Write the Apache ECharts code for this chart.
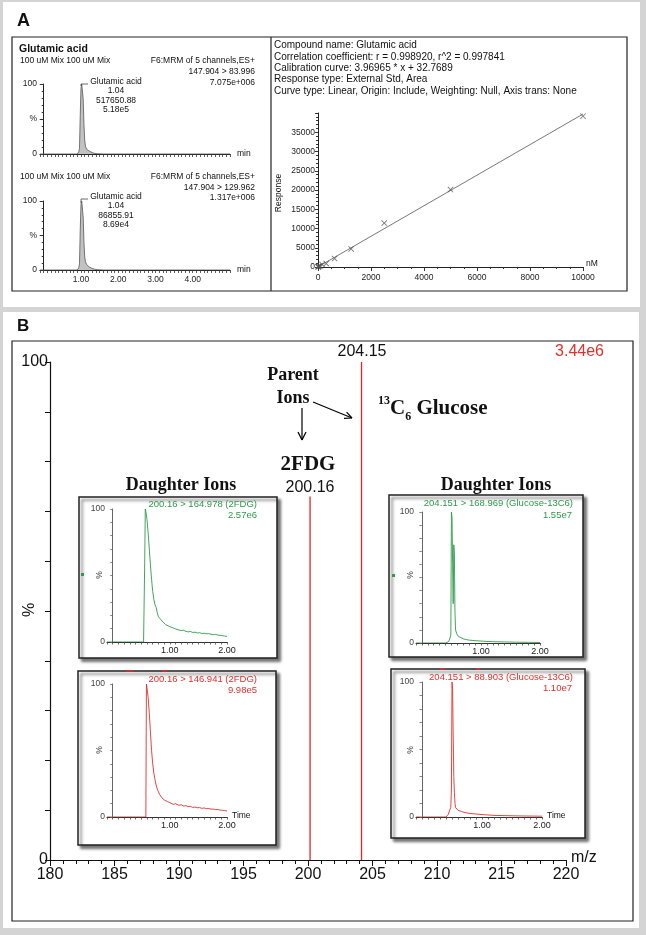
<!DOCTYPE html>
<html><head><meta charset="utf-8">
<script src="https://cdn.jsdelivr.net/npm/echarts@6/dist/echarts.min.js"></script>
<style>
html,body{margin:0;padding:0;}
body{width:646px;height:935px;background:#d4d4d4;position:relative;overflow:hidden;}
.pa{position:absolute;left:3px;top:2px;width:637px;height:305px;background:#fff;}
.pb{position:absolute;left:3px;top:312px;width:636px;height:616px;background:#fff;}
#c{position:absolute;left:0;top:0;width:646px;height:935px;}
</style>
</head><body>
<div class="pa"></div><div class="pb"></div>
<div id="c"></div>
<script>
// ---------------- DATA ----------------
// Panel A chromatograms (time in min, intensity in %)
const chromA1Time = [-0.1, 0.90, 0.94, 0.96, 0.98, 1.00, 1.02, 1.04, 1.06, 1.08, 1.10, 1.12, 1.15, 1.18, 1.22, 1.26, 1.30, 1.36, 1.45, 1.60, 5.0];
const chromA1Pct  = [0, 0, 3, 8, 55, 94, 100, 99, 78, 42, 20, 11, 7, 5.5, 4.2, 3, 2, 1, 0.4, 0, 0];
const chromA2Time = [-0.1, 0.90, 0.94, 0.96, 0.98, 1.00, 1.02, 1.04, 1.06, 1.08, 1.10, 1.12, 1.15, 1.18, 1.22, 1.26, 1.30, 1.36, 1.45, 1.60, 5.0];
const chromA2Pct  = [0, 0, 3, 9, 58, 95, 100, 98, 76, 40, 19, 12, 8, 6, 4.5, 3.2, 2.2, 1.2, 0.5, 0, 0];

// Panel A calibration (nM vs response)
const calConc = [0, 9.8, 19.5, 39, 78, 156, 312, 625, 1250, 2500, 5000, 10000];
const calResp = [40, 60, 100, 180, 330, 640, 900, 2200, 4700, 11400, 20100, 39150];
const calFitConc = [0, 10000];
const calFitResp = [33, 39730];

// Panel B parent ion spectrum (m/z vs %)
const specMz  = [200.16, 204.15];
const specPct = [73, 100];

// Panel B daughter ion chromatograms (time in min, %)
const dauLTTime = [-0.1, 0.54, 0.56, 0.57, 0.58, 0.60, 0.62, 0.64, 0.66, 0.68, 0.70, 0.72, 0.74, 0.76, 0.78, 0.80, 0.82, 0.84, 0.86, 0.88, 0.90, 0.93, 0.96, 1.00, 1.03, 1.06, 1.10, 1.13, 1.16, 1.20, 1.24, 1.28, 1.32, 1.36, 1.40, 1.44, 1.48, 1.52, 1.56, 1.60, 1.64, 1.68, 1.72, 1.76, 1.80, 1.84, 1.88, 1.92, 1.96, 2.00];
const dauLTPct  = [0, 0, 60, 100, 98, 92, 82, 70, 58, 47, 38, 32, 28, 26, 22, 19, 18, 17, 16, 15, 14.5, 13, 12.5, 11.5, 11, 10.5, 9.8, 10.2, 9, 8.6, 8.8, 8, 7.6, 7.9, 7.2, 7.4, 6.8, 7, 6.4, 6.6, 6.1, 6.3, 5.8, 5.5, 5.7, 5.2, 5, 4.8, 4.5, 4.2];
const dauLBTime = [-0.1, 0.58, 0.59, 0.60, 0.62, 0.64, 0.66, 0.68, 0.70, 0.72, 0.74, 0.76, 0.78, 0.80, 0.82, 0.84, 0.86, 0.88, 0.90, 0.93, 0.96, 1.00, 1.03, 1.06, 1.10, 1.13, 1.16, 1.20, 1.24, 1.28, 1.32, 1.36, 1.40, 1.44, 1.48, 1.52, 1.56, 1.60, 1.64, 1.68, 1.72, 1.76, 1.80, 1.84, 1.88, 1.92, 1.96, 2.00];
const dauLBPct  = [0, 0, 100, 97, 90, 78, 64, 50, 40, 33, 28, 24, 21, 19, 17, 16, 14.5, 13.5, 12.8, 12, 11.5, 10.8, 10.2, 9.5, 10, 9, 8.8, 9.2, 8.2, 8.5, 7.8, 8, 7.2, 7.5, 6.9, 7.1, 6.5, 6.8, 6.2, 6.4, 5.9, 6, 5.5, 5.7, 5.2, 5, 4.8, 4.6];
const dauRTTime = [-0.1, 0.40, 0.45, 0.47, 0.48, 0.49, 0.50, 0.51, 0.52, 0.53, 0.54, 0.55, 0.56, 0.57, 0.59, 0.62, 0.65, 0.70, 0.75, 0.80, 0.85, 0.90, 1.00, 1.10, 1.20, 1.40, 1.60, 1.80, 2.00];
const dauRTPct  = [0, 0, 1, 3, 3, 6, 100, 96, 60, 30, 75, 68, 23, 10, 7, 5, 4, 3.2, 2.6, 2.2, 2, 1.8, 1.5, 1.2, 1, 0.8, 0.6, 0.5, 0.4];
const dauRBTime = [-0.1, 0.40, 0.44, 0.46, 0.47, 0.48, 0.49, 0.50, 0.51, 0.52, 0.53, 0.54, 0.55, 0.56, 0.58, 0.60, 0.63, 0.66, 0.70, 0.75, 0.80, 0.90, 1.00, 1.10, 1.20, 1.40, 1.60, 1.80, 2.00];
const dauRBPct  = [0, 0, 2, 5, 6, 7, 20, 100, 95, 60, 30, 18, 10, 7, 6, 5, 4.5, 4, 3.5, 3, 2.6, 2.2, 1.8, 1.5, 1.2, 1, 0.8, 0.7, 0.6];

// tick labels
const chromTimeLabels = ['1.00', '2.00', '3.00', '4.00'];
const insetTimeLabels = ['1.00', '2.00'];

// ---------------- HELPERS ----------------
const SANS = "'Liberation Sans', Arial, sans-serif";
const SERIF = "'Liberation Serif', 'Times New Roman', serif";
const GREEN = '#2f9a4a';
const RED = '#e2302c';
const SPEC_RED = '#e02626';
const zip = (a, b) => a.map((v, i) => [v, b[i]]);

function timeFmt(labels) {
  return function (v) {
    const r = Math.round(v);
    if (Math.abs(v - r) < 1e-6 && r >= 1 && r <= labels.length) return labels[r - 1];
    return '';
  };
}

function T(text, x, y, o) {
  o = o || {};
  return {
    type: 'text', x: x, y: y, z: 20, rotation: o.rot || 0,
    style: {
      text: text, fontSize: o.size || 10, fontFamily: o.font || SANS,
      fontWeight: o.bold ? 'bold' : 'normal', fill: o.color || '#111',
      align: o.align || 'left', verticalAlign: 'middle', rich: o.rich
    }
  };
}
function L(x1, y1, x2, y2, w, c) {
  return { type: 'line', z: 20, shape: { x1, y1, x2, y2 }, style: { stroke: c || '#000', lineWidth: w || 1 } };
}

// ---------------- LAYOUT ----------------
const grids = [
  { left: 40, top: 84, width: 190, height: 70 },   // 0 A chrom 1
  { left: 40, top: 201, width: 190, height: 69 },  // 1 A chrom 2
  { left: 318, top: 113, width: 265, height: 154 },// 2 calibration
  { left: 50, top: 362, width: 516, height: 498 }, // 3 B spectrum
  { left: 107, top: 509, width: 120, height: 133 },// 4 LT
  { left: 107, top: 684, width: 120, height: 133 },// 5 LB
  { left: 416, top: 512, width: 124, height: 131 },// 6 RT
  { left: 416, top: 682, width: 126, height: 135 } // 7 RB
];

function chromX(gi, showLabels) {
  return {
    gridIndex: gi, type: 'value', min: -0.1, max: 5.0, interval: 0.1,
    axisLine: { lineStyle: { color: '#222', width: 1 } },
    axisTick: { length: 3, lineStyle: { color: '#333', width: 0.8 } },
    axisLabel: { show: showLabels, formatter: timeFmt(chromTimeLabels), fontSize: 8.5, color: '#222', fontFamily: SANS, margin: 5 },
    splitLine: { show: false }
  };
}
function chromY(gi) {
  return {
    gridIndex: gi, type: 'value', min: 0, max: 100, interval: 50,
    axisLine: { show: true, lineStyle: { color: '#222', width: 1 } },
    axisTick: { show: true, length: 4, lineStyle: { color: '#333' } },
    minorTick: { show: true, splitNumber: 5, length: 2, lineStyle: { color: '#333' } },
    axisLabel: { formatter: v => v === 0 ? '0' : (v === 50 ? '%' : '100'), fontSize: 8.5, color: '#222', fontFamily: SANS, margin: 3 },
    splitLine: { show: false }, minorSplitLine: { show: false }
  };
}
function insetX(gi) {
  return {
    gridIndex: gi, type: 'value', min: -0.1, max: 2.0, interval: 0.1, z: 5,
    axisLine: { lineStyle: { color: '#333', width: 1 } },
    axisTick: { length: 2.5, lineStyle: { color: '#444', width: 0.8 } },
    axisLabel: { formatter: timeFmt(insetTimeLabels), fontSize: 9, color: '#222', fontFamily: SANS, margin: 4 },
    splitLine: { show: false }
  };
}
function insetY(gi) {
  return {
    gridIndex: gi, type: 'value', min: 0, max: 100, interval: 10, z: 5,
    axisLine: { show: true, lineStyle: { color: '#666', width: 1 } },
    axisTick: { show: true, length: 2.5, lineStyle: { color: '#666', width: 0.8 } },
    axisLabel: { formatter: v => v === 0 ? '0' : (v === 100 ? '100' : ''), fontSize: 8.5, color: '#444', fontFamily: SANS, margin: 2 },
    splitLine: { show: false }
  };
}

const xAxes = [
  chromX(0, false), chromX(1, true),
  { gridIndex: 2, type: 'value', min: 0, max: 10000, interval: 2000,
    axisLine: { lineStyle: { color: '#222' } },
    axisTick: { length: 4, lineStyle: { color: '#333' } },
    minorTick: { show: true, splitNumber: 4, length: 2, lineStyle: { color: '#333' } },
    axisLabel: { formatter: v => String(v), fontSize: 8.5, color: '#222', fontFamily: SANS, margin: 6 },
    splitLine: { show: false }, minorSplitLine: { show: false } },
  { gridIndex: 3, type: 'value', min: 180, max: 220, interval: 5,
    axisLine: { lineStyle: { color: '#111', width: 1.2 } },
    axisTick: { length: 6, lineStyle: { color: '#111' } },
    minorTick: { show: true, splitNumber: 5, length: 4, lineStyle: { color: '#111' } },
    axisLabel: { fontSize: 16, color: '#111', fontFamily: SANS, margin: 7 },
    splitLine: { show: false }, minorSplitLine: { show: false } },
  insetX(4), insetX(5), insetX(6), insetX(7)
];
const yAxes = [
  chromY(0), chromY(1),
  { gridIndex: 2, type: 'value', min: 0, max: 40000, interval: 5000,
    axisLine: { show: true, lineStyle: { color: '#222' } },
    axisTick: { show: true, length: 3, lineStyle: { color: '#333' } },
    minorTick: { show: true, splitNumber: 5, length: 2, lineStyle: { color: '#333' } },
    axisLabel: { formatter: v => v >= 40000 ? '' : String(v), fontSize: 8.5, color: '#222', fontFamily: SANS, margin: 3 },
    splitLine: { show: false }, minorSplitLine: { show: false } },
  { gridIndex: 3, type: 'value', min: 0, max: 100, interval: 10,
    axisLine: { show: true, lineStyle: { color: '#111', width: 1.2 } },
    axisTick: { show: true, length: 5, lineStyle: { color: '#111' } },
    axisLabel: { formatter: v => v === 0 ? '0' : (v === 100 ? '100' : ''), fontSize: 16, color: '#111', fontFamily: SANS, margin: 2 },
    splitLine: { show: false } },
  insetY(4), insetY(5), insetY(6), insetY(7)
];

const xMark = 'path://M0,1L1,0L5,4L9,0L10,1L6,5L10,9L9,10L5,6L1,10L0,9L4,5Z';

function trace(gi, t, v, color, w) {
  return { type: 'line', xAxisIndex: gi, yAxisIndex: gi, data: zip(t, v), symbol: 'none',
    color: color, lineStyle: { color: color, width: w || 0.9 }, silent: true, animation: false };
}

const series = [
  Object.assign(trace(0, chromA1Time, chromA1Pct, '#555', 0.8), { areaStyle: { color: '#a8a8a8' } }),
  Object.assign(trace(1, chromA2Time, chromA2Pct, '#555', 0.8), { areaStyle: { color: '#a8a8a8' } }),
  { type: 'line', xAxisIndex: 2, yAxisIndex: 2, data: zip(calFitConc, calFitResp), symbol: 'none',
    color: '#555', lineStyle: { color: '#555', width: 0.8 }, animation: false },
  { type: 'scatter', xAxisIndex: 2, yAxisIndex: 2, data: zip(calConc, calResp), symbol: xMark, symbolSize: 6,
    itemStyle: { color: '#555' }, animation: false },
  trace(4, dauLTTime, dauLTPct, GREEN),
  trace(5, dauLBTime, dauLBPct, RED),
  trace(6, dauRTTime, dauRTPct, GREEN),
  trace(7, dauRBTime, dauRBPct, RED)
];
// parent-ion sticks (one segment per ion, from the baseline to its intensity)
specMz.forEach((mz, i) => series.push({
  type: 'line', xAxisIndex: 3, yAxisIndex: 3, z: 6, data: [[mz, 0], [mz, specPct[i]]], symbol: 'none',
  color: SPEC_RED, itemStyle: { color: SPEC_RED }, lineStyle: { color: SPEC_RED, width: 1.3 },
  emphasis: { disabled: true }, animation: false, silent: true
}));

// ---------------- DECORATION / TEXT ----------------
const g = [];
g.push({ type: 'rect', z: 0, shape: { x: 12, y: 37, width: 615, height: 254 }, style: { fill: 'none', stroke: '#222', lineWidth: 1.2 } });
g.push(L(271, 37, 271, 291, 1.2, '#222'));
g.push({ type: 'rect', z: 0, shape: { x: 12, y: 341, width: 621, height: 580 }, style: { fill: 'none', stroke: '#222', lineWidth: 1.2 } });

// Panel A texts
g.push(T('A', 17, 21, { size: 18, bold: true }));
g.push(T('Glutamic acid', 19, 49, { size: 10.5, bold: true }));
g.push(T('100 uM Mix 100 uM Mix', 20, 61, { size: 8.5 }));
g.push(T('F6:MRM of 5 channels,ES+', 255, 61, { size: 8.5, align: 'right' }));
g.push(T('147.904 > 83.996', 255, 72, { size: 8.5, align: 'right' }));
g.push(T('7.075e+006', 255, 83, { size: 8.5, align: 'right' }));
g.push(T('Glutamic acid', 116, 82, { size: 8.5, align: 'center' }));
g.push(T('1.04', 116, 91, { size: 8.5, align: 'center' }));
g.push(T('517650.88', 116, 101, { size: 8.5, align: 'center' }));
g.push(T('5.18e5', 116, 110, { size: 8.5, align: 'center' }));
g.push({ type: 'polyline', z: 20, shape: { points: [[81, 86], [81, 84], [88, 84]] }, style: { stroke: '#444', lineWidth: 0.8, fill: 'none' } });
g.push(T('min', 237, 154, { size: 8.5 }));

g.push(T('100 uM Mix 100 uM Mix', 20, 177, { size: 8.5 }));
g.push(T('F6:MRM of 5 channels,ES+', 255, 177, { size: 8.5, align: 'right' }));
g.push(T('147.904 > 129.962', 255, 188, { size: 8.5, align: 'right' }));
g.push(T('1.317e+006', 255, 198, { size: 8.5, align: 'right' }));
g.push(T('Glutamic acid', 116, 197, { size: 8.5, align: 'center' }));
g.push(T('1.04', 116, 206, { size: 8.5, align: 'center' }));
g.push(T('86855.91', 116, 216, { size: 8.5, align: 'center' }));
g.push(T('8.69e4', 116, 225, { size: 8.5, align: 'center' }));
g.push({ type: 'polyline', z: 20, shape: { points: [[81, 203], [81, 199], [88, 199]] }, style: { stroke: '#444', lineWidth: 0.8, fill: 'none' } });
g.push(T('min', 237, 270, { size: 8.5 }));

const calText = [
  'Compound name: Glutamic acid',
  'Correlation coefficient: r = 0.998920, r^2 = 0.997841',
  'Calibration curve: 3.96965 * x + 32.7689',
  'Response type: External Std, Area',
  'Curve type: Linear, Origin: Include, Weighting: Null, Axis trans: None'
];
const calTextY = [45, 57, 68, 79, 91];
calText.forEach((s, i) => g.push(T(s, 274, calTextY[i], { size: 10 })));
g.push(T('Response', 279, 193, { size: 8.5, align: 'center', rot: Math.PI / 2 }));
g.push(T('nM', 586, 264, { size: 8.5 }));

// Panel B texts
g.push(T('B', 17, 326, { size: 17, bold: true }));
g.push(T('204.15', 362, 352, { size: 16, align: 'center' }));
g.push(T('3.44e6', 604, 352, { size: 16, align: 'right', color: RED }));
g.push(T('Parent', 293, 375, { size: 18, bold: true, font: SERIF, align: 'center' }));
g.push(T('Ions', 293, 398, { size: 18, bold: true, font: SERIF, align: 'center' }));
g.push(T('2FDG', 308, 465, { size: 21, bold: true, font: SERIF, align: 'center' }));
g.push(T('200.16', 310, 488, { size: 16, align: 'center' }));
g.push(T('Daughter Ions', 181, 485, { size: 18, bold: true, font: SERIF, align: 'center' }));
g.push(T('Daughter Ions', 496, 485, { size: 18, bold: true, font: SERIF, align: 'center' }));
g.push(T('{s|13}{b|C}{d|6}{b| Glucose}', 378, 409, { size: 21, bold: true, font: SERIF,
  rich: {
    s: { fontSize: 12, fontWeight: 'bold', fontFamily: SERIF, fill: '#111', verticalAlign: 'top', lineHeight: 28 },
    b: { fontSize: 21, fontWeight: 'bold', fontFamily: SERIF, fill: '#111', lineHeight: 28 },
    d: { fontSize: 12, fontWeight: 'bold', fontFamily: SERIF, fill: '#111', verticalAlign: 'bottom', lineHeight: 28 }
  } }));
g.push(T('m/z', 571, 858, { size: 16 }));
g.push(T('%', 30, 610, { size: 16, align: 'center', rot: Math.PI / 2 }));
// arrows
g.push(L(302, 408, 302, 440, 1.2));
g.push(L(298, 432, 302, 440, 1.2));
g.push(L(306, 432, 302, 440, 1.2));
g.push(L(313, 402, 352, 418, 1.2));
g.push(L(346.6, 412.1, 352, 418, 1.2));
g.push(L(344, 418.4, 352, 418, 1.2));

// inset boxes
const boxes = [
  { x: 79, y: 497, w: 198, h: 161 },
  { x: 78, y: 671, w: 198, h: 174 },
  { x: 389, y: 495, w: 194, h: 162 },
  { x: 391, y: 669, w: 194, h: 169 }
];
boxes.forEach(b => g.push({ type: 'rect', z: 1, shape: { x: b.x, y: b.y, width: b.w, height: b.h },
  style: { fill: '#fff', stroke: '#222', lineWidth: 1.5, shadowBlur: 3, shadowOffsetX: 3, shadowOffsetY: 3, shadowColor: 'rgba(0,0,0,0.55)' } }));

g.push(T('200.16 > 164.978 (2FDG)', 257, 504, { size: 9.5, align: 'right', color: GREEN }));
g.push(T('2.57e6', 257, 515, { size: 9.5, align: 'right', color: GREEN }));
g.push(T('200.16 > 146.941 (2FDG)', 257, 679, { size: 9.5, align: 'right', color: RED }));
g.push(T('9.98e5', 257, 690, { size: 9.5, align: 'right', color: RED }));
g.push(T('204.151 > 168.969 (Glucose-13C6)', 573, 503, { size: 9.5, align: 'right', color: GREEN }));
g.push(T('1.55e7', 572, 515, { size: 9.5, align: 'right', color: GREEN }));
g.push(T('204.151 > 88.903 (Glucose-13C6)', 573, 677, { size: 9.5, align: 'right', color: RED }));
g.push(T('1.10e7', 572, 688, { size: 9.5, align: 'right', color: RED }));
g.push(T('%', 100, 575, { size: 8.5, align: 'center', rot: Math.PI / 2, color: '#444' }));
g.push(T('%', 100, 750, { size: 8.5, align: 'center', rot: Math.PI / 2, color: '#444' }));
g.push(T('%', 411, 575, { size: 8.5, align: 'center', rot: Math.PI / 2, color: '#444' }));
g.push(T('%', 411, 750, { size: 8.5, align: 'center', rot: Math.PI / 2, color: '#444' }));
g.push(T('Time', 232, 816, { size: 8.5 }));
g.push(T('Time', 547, 816, { size: 8.5 }));
g.push({ type: 'rect', z: 20, shape: { x: 81, y: 573, width: 3, height: 3 }, style: { fill: GREEN } });
g.push({ type: 'rect', z: 20, shape: { x: 392, y: 574, width: 3, height: 3 }, style: { fill: GREEN } });
[[126, 7], [162, 5], [440, 5], [476, 4]].forEach(p => g.push({ type: 'rect', z: 20, shape: { x: p[0], y: p[0] < 300 ? 670 : 668, width: p[1], height: 1.5 }, style: { fill: RED } }));

const chart = echarts.init(document.getElementById('c'), null, { renderer: 'canvas' });
chart.setOption({
  animation: false,
  grid: grids,
  xAxis: xAxes,
  yAxis: yAxes,
  series: series,
  graphic: { elements: g }
});
</script>
</body></html>
